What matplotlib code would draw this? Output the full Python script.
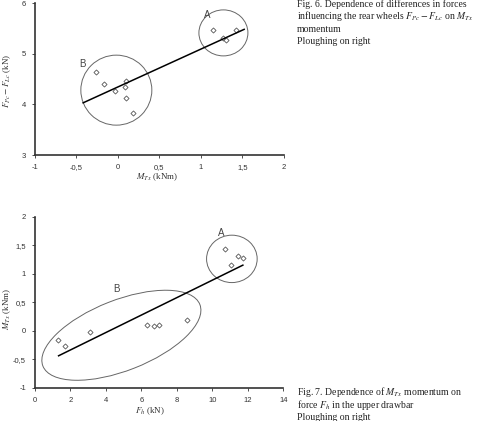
import matplotlib
matplotlib.use('Agg')
import matplotlib.pyplot as plt
from matplotlib.patches import Ellipse
from matplotlib.transforms import ScaledTranslation

plt.rcParams['font.family'] = ['Liberation Sans', 'DejaVu Sans']
plt.rcParams['mathtext.fontset'] = 'stix'

# Fig. 6 data: F_Pc - F_Lc (kN) vs M_Tx (kNm)
f6_a_x = [1.15, 1.26, 1.30, 1.42]
f6_a_y = [5.46, 5.31, 5.26, 5.46]
f6_b_x = [-0.27, -0.17, -0.04, 0.08, 0.10, 0.10, 0.18]
f6_b_y = [4.64, 4.40, 4.26, 4.34, 4.46, 4.12, 3.82]
f6_line_x = [-0.42, 1.52]
f6_line_y = [4.03, 5.48]
f6_groups = {'A': (1.27, 5.41), 'B': (-0.02, 4.28)}

# Fig. 7 data: M_Tx (kNm) vs F_h (kN)
f7_a_x = [10.71, 11.04, 11.44, 11.72]
f7_a_y = [1.43, 1.15, 1.31, 1.28]
f7_b_x = [1.30, 1.67, 3.08, 6.29, 6.71, 7.00, 8.55]
f7_b_y = [-0.17, -0.26, -0.03, 0.10, 0.08, 0.10, 0.19]
f7_line_x = [1.33, 11.72]
f7_line_y = [-0.44, 1.15]
f7_groups = {'A': (11.1, 1.26), 'B': (4.87, -0.08)}

f6_xticks = [-1, -0.5, 0, 0.5, 1, 1.5, 2]
f6_xlabels = ['-1', '-0,5', '0', '0,5', '1', '1,5', '2']
f6_yticks = [3, 4, 5, 6]
f7_xticks = [0, 2, 4, 6, 8, 10, 12, 14]
f7_yticks = [-1, -0.5, 0, 0.5, 1, 1.5, 2]
f7_ylabels = ['-1', '-0,5', '0', '0,5', '1', '1,5', '2']

fig = plt.figure(figsize=(4.79, 4.21), dpi=100)
ax1 = fig.add_axes([35/479, 1-155/421, 249/479, 152/421])
ax2 = fig.add_axes([35/479, 1-387.7/421, 248.3/479, 171/421])

mk = dict(ls='none', marker='D', ms=2.6, mfc='white', mec='#555555', mew=0.6)


def style(ax):
    for s in ['top', 'right']:
        ax.spines[s].set_visible(False)
    for s in ['left', 'bottom']:
        ax.spines[s].set_linewidth(1.2)
        ax.spines[s].set_color('#333333')
    ax.tick_params(direction='out', length=2.5, width=0.6, labelsize=5.5,
                   colors='#333333', pad=4)


def ring(ax, center, w, h, angle=0):
    tr = fig.dpi_scale_trans + ScaledTranslation(center[0], center[1], ax.transData)
    ax.add_patch(Ellipse((0, 0), w, h, angle=angle, fill=False,
                         ec='#666666', lw=0.7, transform=tr, clip_on=False))


# Fig. 6
ax1.plot(f6_a_x, f6_a_y, **mk)
ax1.plot(f6_b_x, f6_b_y, **mk)
ax1.plot(f6_line_x, f6_line_y, color='black', lw=1.1)
ring(ax1, f6_groups['A'], 0.49, 0.46)
ring(ax1, f6_groups['B'], 0.71, 0.70)
ax1.text(1.07, 5.76, 'A', fontsize=7, color='#444444', va='center', ha='center')
ax1.text(-0.43, 4.79, 'B', fontsize=7, color='#444444', va='center', ha='center')
ax1.set_xlim(-1, 2)
ax1.set_ylim(3, 6)
ax1.set_xticks(f6_xticks, f6_xlabels)
ax1.set_yticks(f6_yticks)
style(ax1)
ax1.set_xlabel(r'$M_{Tx}$ (kNm)', fontsize=6.5, family='Liberation Serif', color='#333333')
ax1.xaxis.set_label_coords(0.49, -0.105)
ax1.set_ylabel(r'$F_{Pc} - F_{Lc}$ (kN)', fontsize=6.5, family='Liberation Serif', color='#333333')
ax1.yaxis.set_label_coords(-0.09, 0.49)

# Fig. 7
ax2.plot(f7_a_x, f7_a_y, **mk)
ax2.plot(f7_b_x, f7_b_y, **mk)
ax2.plot(f7_line_x, f7_line_y, color='black', lw=1.1)
ring(ax2, f7_groups['A'], 0.506, 0.474)
ring(ax2, f7_groups['B'], 1.686, 0.706, angle=21.4)
ax2.text(10.5, 1.72, 'A', fontsize=7, color='#444444', va='center', ha='center')
ax2.text(4.6, 0.74, 'B', fontsize=7, color='#444444', va='center', ha='center')
ax2.set_xlim(0, 14)
ax2.set_ylim(-1, 2)
ax2.set_xticks(f7_xticks)
ax2.set_yticks(f7_yticks, f7_ylabels)
style(ax2)
ax2.set_xlabel(r'$F_h$ (kN)', fontsize=6.5, family='Liberation Serif', color='#333333')
ax2.xaxis.set_label_coords(0.463, -0.105)
ax2.set_ylabel(r'$M_{Tx}$ (kNm)', fontsize=6.5, family='Liberation Serif', color='#333333')
ax2.yaxis.set_label_coords(-0.09, 0.46)

# captions
cap = dict(fontsize=7, family='Liberation Serif', color='#222222', va='center', ha='left')
fig.text(297/479, 1-4/421, 'Fig. 6. Dependence of differences in forces', **cap)
fig.text(297/479, 1-16/421, r'influencing the rear wheels $F_{Pc} - F_{Lc}$ on $M_{Tx}$', **cap)
fig.text(297/479, 1-29/421, 'momentum', **cap)
fig.text(297/479, 1-42/421, 'Ploughing on right', **cap)
fig.text(297/479, 1-392/421, r'Fig. 7. Dependence of $M_{Tx}$ momentum on', **cap)
fig.text(297/479, 1-404.5/421, r'force $F_h$ in the upper drawbar', **cap)
fig.text(297/479, 1-417/421, 'Ploughing on right', **cap)

fig.savefig('out.png', dpi=100)
